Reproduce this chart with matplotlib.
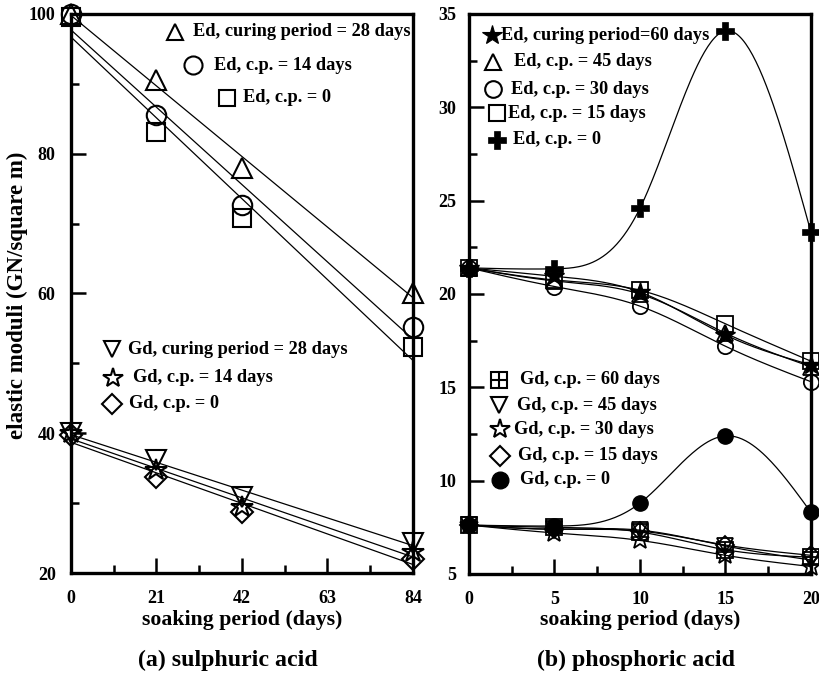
import numpy as np
import matplotlib
matplotlib.use("Agg")
import matplotlib.pyplot as plt
from matplotlib.lines import Line2D

plt.rcParams['font.family'] = ['Liberation Serif', 'DejaVu Serif']
plt.rcParams['font.weight'] = 'bold'

# ---------------- data: (a) sulphuric acid ----------------
soak_a = [0, 21, 42, 84]
ed_cp28 = [100.0, 90.5, 78.0, 60.0]
ed_cp14 = [100.0, 85.6, 72.6, 55.2]
ed_cp0 = [99.6, 83.1, 70.8, 52.3]
gd_cp28 = [40.0, 36.2, 30.9, 24.3]
gd_cp14 = [40.0, 34.8, 29.4, 23.0]
gd_cp0 = [39.8, 33.7, 28.7, 22.0]
xticks_a = [0, 21, 42, 63, 84]
yticks_a = [20, 40, 60, 80, 100]

# ---------------- data: (b) phosphoric acid ----------------
soak_b = [0, 5, 10, 15, 20]
ed_cp60 = [21.4, 20.95, 20.1, 17.8, 16.2]
ed_cp45 = [21.4, 20.7, 20.0, 17.9, 16.1]
ed_cp30 = [21.4, 20.4, 19.35, 17.2, 15.3]
ed_cp15 = [21.4, 20.75, 20.2, 18.4, 16.4]
ed_b_cp0 = [21.4, 21.35, 24.6, 34.1, 23.3]
gd_cp60 = [7.62, 7.5, 7.25, 6.3, 5.9]
gd_cp45 = [7.62, 7.4, 7.35, 6.5, 5.75]
gd_cp30 = [7.62, 7.2, 6.8, 6.0, 5.4]
gd_cp15 = [7.62, 7.4, 7.3, 6.55, 6.0]
gd_b_cp0 = [7.62, 7.57, 8.8, 12.4, 8.3]
xticks_b = [0, 5, 10, 15, 20]
yticks_b = [5, 10, 15, 20, 25, 30, 35]


def natural_spline(x, y, n=200):
    x = np.asarray(x, float)
    y = np.asarray(y, float)
    k = len(x)
    h = np.diff(x)
    A = np.zeros((k, k))
    r = np.zeros(k)
    A[0, 0] = 1
    A[-1, -1] = 1
    for i in range(1, k - 1):
        A[i, i - 1] = h[i - 1]
        A[i, i] = 2 * (h[i - 1] + h[i])
        A[i, i + 1] = h[i]
        r[i] = 6 * ((y[i + 1] - y[i]) / h[i] - (y[i] - y[i - 1]) / h[i - 1])
    M = np.linalg.solve(A, r)
    xs = np.linspace(x[0], x[-1], n)
    ys = np.empty_like(xs)
    for j, t in enumerate(xs):
        i = min(np.searchsorted(x, t, side='right') - 1, k - 2)
        a = x[i + 1] - t
        b = t - x[i]
        ys[j] = (M[i] * a**3 / (6 * h[i]) + M[i + 1] * b**3 / (6 * h[i])
                 + (y[i] / h[i] - M[i] * h[i] / 6) * a
                 + (y[i + 1] / h[i] - M[i + 1] * h[i] / 6) * b)
    return xs, ys


fig = plt.figure(figsize=(8.2, 6.73), dpi=100)
axA = fig.add_axes([71 / 820, 1 - 573 / 673, 342 / 820, 559 / 673])
axB = fig.add_axes([469 / 820, 1 - 574 / 673, 342 / 820, 560 / 673])

LW = 0.9
mk = dict(color='black', linestyle='none', clip_on=False, zorder=3)
LFS = 13.2


def style_axes(ax, xt, yt, xmin_minor, ymin_minor, ypad):
    for s in ax.spines.values():
        s.set_linewidth(2.4)
    ax.set_xticks(xt)
    ax.set_yticks(yt)
    ax.set_xticks(xmin_minor, minor=True)
    ax.set_yticks(ymin_minor, minor=True)
    ax.tick_params(which='major', direction='in', length=11, width=1.8,
                   labelsize=13, top=False, right=False)
    ax.tick_params(which='minor', direction='in', length=6, width=1.8,
                   top=False, right=False)
    ax.tick_params(axis='x', which='major', pad=12)
    ax.tick_params(axis='y', which='major', pad=ypad)
    for lab in ax.get_xticklabels() + ax.get_yticklabels():
        lab.set_fontweight('bold')


# ---------------- panel (a) ----------------
axA.set_xlim(0, 84)
axA.set_ylim(20, 100)
style_axes(axA, xticks_a, yticks_a, np.arange(10.5, 84, 21), np.arange(30, 100, 20), 11)

xx = np.array([0.0, 84.0])
for ys in [ed_cp28, ed_cp14, ed_cp0, gd_cp28, gd_cp14, gd_cp0]:
    p = np.polyfit(soak_a, ys, 1)
    axA.plot(xx, np.polyval(p, xx), color='black', lw=LW, zorder=2)

ms_a = 14
axA.plot(soak_a, ed_cp28, marker='^', ms=ms_a, mfc='none', mew=1.5, **mk)
axA.plot(soak_a, ed_cp14, marker='o', ms=ms_a, mfc='none', mew=1.5, **mk)
axA.plot(soak_a, ed_cp0, marker='s', ms=ms_a - 1, mfc='none', mew=1.5, **mk)
axA.plot(soak_a, gd_cp28, marker='v', ms=ms_a, mfc='none', mew=1.5, **mk)
axA.plot(soak_a, gd_cp14, marker='*', ms=ms_a + 2, mfc='none', mew=1.5, **mk)
axA.plot(soak_a, gd_cp0, marker='D', ms=ms_a - 3, mfc='none', mew=1.5, **mk)


def leg(fig, px, py, tx, label, fs=LFS, **kw):
    fig.add_artist(Line2D([px / 820], [1 - py / 673], transform=fig.transFigure,
                          color='black', linestyle='none', **kw))
    fig.text(tx / 820, 1 - py / 673, label, fontsize=fs, fontweight='bold',
             ha='left', va='center')


leg(fig, 175, 32, 193, 'Ed, curing period = 28 days', marker='^', ms=12, mfc='none', mew=1.5)
leg(fig, 193, 65, 214, 'Ed, c.p. = 14 days', marker='o', ms=13, mfc='none', mew=1.5)
leg(fig, 227, 98, 243, 'Ed, c.p. = 0', marker='s', ms=12, mfc='none', mew=1.5)
leg(fig, 112, 349, 128, 'Gd, curing period = 28 days', marker='v', ms=12, mfc='none', mew=1.5)
leg(fig, 113, 378, 133, 'Gd, c.p. = 14 days', marker='*', ms=15, mfc='none', mew=1.5)
leg(fig, 112, 404, 129, 'Gd, c.p. = 0', marker='D', ms=10, mfc='none', mew=1.5)

# ---------------- panel (b) ----------------
axB.set_xlim(0, 20)
axB.set_ylim(5, 35)
style_axes(axB, xticks_b, yticks_b, np.arange(2.5, 20, 5), np.arange(7.5, 35, 5), 9)

for ys in [ed_cp60, ed_cp45, ed_cp30, ed_cp15, ed_b_cp0,
           gd_cp60, gd_cp45, gd_cp30, gd_cp15, gd_b_cp0]:
    sx, sy = natural_spline(soak_b, ys)
    axB.plot(sx, sy, color='black', lw=LW, zorder=2)

ms_b = 11
axB.plot(soak_b, ed_cp15, marker='s', ms=ms_b + 1, mfc='none', mew=1.3, **mk)
axB.plot(soak_b, ed_cp30, marker='o', ms=ms_b, mfc='none', mew=1.3, **mk)
axB.plot(soak_b, ed_cp45, marker='^', ms=ms_b, mfc='none', mew=1.3, **mk)
axB.plot(soak_b, ed_cp60, marker='*', ms=ms_b + 4, mfc='black', mew=1.0, **mk)
axB.plot(soak_b, ed_b_cp0, marker='P', ms=ms_b + 2, mfc='black', mew=0.5, **mk)
axB.plot(soak_b, gd_cp60, marker='s', ms=ms_b + 1, mfc='none', mew=1.3, **mk)
axB.plot(soak_b, gd_cp60, marker='+', ms=ms_b + 1, mew=1.3, **mk)
axB.plot(soak_b, gd_cp45, marker='v', ms=ms_b, mfc='none', mew=1.3, **mk)
axB.plot(soak_b, gd_cp30, marker='*', ms=ms_b + 3, mfc='none', mew=1.3, **mk)
axB.plot(soak_b, gd_cp15, marker='D', ms=ms_b - 2, mfc='none', mew=1.3, **mk)
axB.plot(soak_b, gd_b_cp0, marker='o', ms=ms_b, mfc='black', mew=1.0, **mk)

leg(fig, 492, 35, 501, 'Ed, curing period=60 days', marker='*', ms=15, mfc='black', mew=0.8)
leg(fig, 493, 62, 514, 'Ed, c.p. = 45 days', marker='^', ms=12, mfc='none', mew=1.5)
leg(fig, 493, 89, 511, 'Ed, c.p. = 30 days', marker='o', ms=12, mfc='none', mew=1.5)
leg(fig, 497, 113, 508, 'Ed, c.p. = 15 days', marker='s', ms=12, mfc='none', mew=1.5)
leg(fig, 497, 140, 513, 'Ed, c.p. = 0', marker='P', ms=13, mfc='black', mew=0.5)
leg(fig, 499, 380, 520, 'Gd, c.p. = 60 days', marker='s', ms=11, mfc='none', mew=1.5)
fig.add_artist(Line2D([499 / 820], [1 - 380 / 673], transform=fig.transFigure,
                      color='black', marker='+', ms=11, mew=1.5, linestyle='none'))
leg(fig, 499, 405, 517, 'Gd, c.p. = 45 days', marker='v', ms=12, mfc='none', mew=1.5)
leg(fig, 500, 429, 514, 'Gd, c.p. = 30 days', marker='*', ms=15, mfc='none', mew=1.5)
leg(fig, 500, 456, 518, 'Gd, c.p. = 15 days', marker='D', ms=10, mfc='none', mew=1.5)
leg(fig, 500, 480, 520, 'Gd, c.p. = 0', marker='o', ms=12, mfc='black', mew=1.0)

# ---------------- labels ----------------
fig.text(17 / 820, 1 - 295 / 673, 'elastic moduli (GN/square m)', rotation=90,
         fontsize=16.5, fontweight='bold', ha='center', va='center')
fig.text(242 / 820, 1 - 620 / 673, 'soaking period (days)', fontsize=15.7,
         fontweight='bold', ha='center', va='center')
fig.text(640 / 820, 1 - 620 / 673, 'soaking period (days)', fontsize=15.7,
         fontweight='bold', ha='center', va='center')
fig.text(228 / 820, 1 - 660 / 673, '(a) sulphuric acid', fontsize=17.2,
         fontweight='bold', ha='center', va='center')
fig.text(636 / 820, 1 - 660 / 673, '(b) phosphoric acid', fontsize=17.2,
         fontweight='bold', ha='center', va='center')

fig.savefig('out.png', dpi=100)
